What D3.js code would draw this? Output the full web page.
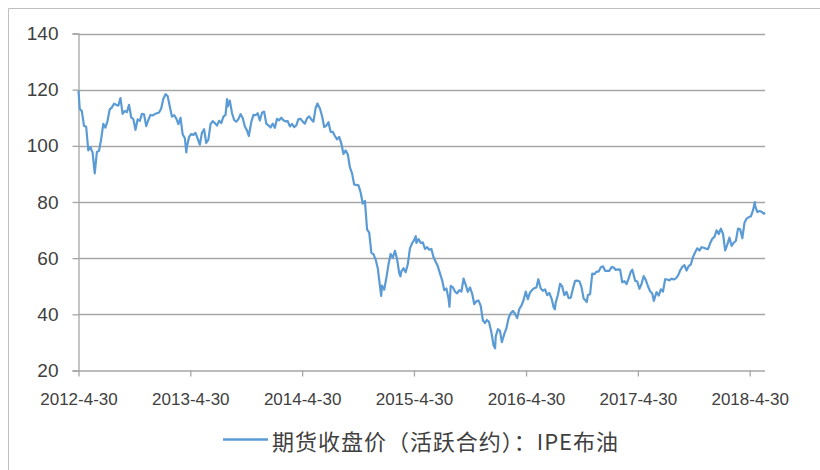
<!DOCTYPE html>
<html><head><meta charset="utf-8">
<script src="https://cdn.jsdelivr.net/npm/d3@7"></script>
<style>body{margin:0;background:#fff}svg{display:block}</style>
</head><body><svg id="c" width="820" height="470"></svg>
<script>
const seriesName = "期货收盘价（活跃合约）：IPE布油";
const yTicks = [20, 40, 60, 80, 100, 120, 140];
const xTickLabels = ["2012-4-30","2013-4-30","2014-4-30","2015-4-30","2016-4-30","2017-4-30","2018-4-30"];
const dates2012 = ["2012-04-30","2012-05-04","2012-05-11","2012-05-18","2012-05-25","2012-06-01","2012-06-08","2012-06-15","2012-06-22","2012-06-29","2012-07-06","2012-07-13","2012-07-20","2012-07-27","2012-08-03","2012-08-10","2012-08-17","2012-08-24","2012-08-31","2012-09-07","2012-09-14","2012-09-21","2012-09-28","2012-10-05","2012-10-12","2012-10-19","2012-10-26","2012-11-02","2012-11-09","2012-11-16","2012-11-23","2012-11-30","2012-12-07","2012-12-14","2012-12-21","2012-12-28"];
const values2012 = [119.7,113.2,112.3,107.1,106.8,98.4,99.5,97.6,90.2,97.8,98.2,102.4,107.8,106.5,109.0,113.0,113.7,115.0,114.6,114.3,117.0,111.4,112.4,112.0,114.6,110.1,109.5,105.7,109.4,108.9,111.4,111.2,107.0,109.2,111.0,110.8];
const dates2013 = ["2013-01-04","2013-01-11","2013-01-18","2013-01-25","2013-02-01","2013-02-08","2013-02-15","2013-02-22","2013-03-01","2013-03-08","2013-03-15","2013-03-22","2013-03-29","2013-04-05","2013-04-12","2013-04-17","2013-04-19","2013-04-26","2013-05-03","2013-05-10","2013-05-17","2013-05-24","2013-05-31","2013-06-07","2013-06-14","2013-06-21","2013-06-28","2013-07-05","2013-07-12","2013-07-19","2013-07-26","2013-08-02","2013-08-09","2013-08-16","2013-08-23","2013-08-28","2013-08-30","2013-09-06","2013-09-13","2013-09-20","2013-09-27","2013-10-04","2013-10-11","2013-10-18","2013-10-25","2013-11-01","2013-11-07","2013-11-15","2013-11-22","2013-11-29","2013-12-06","2013-12-13","2013-12-20","2013-12-27"];
const values2013 = [111.3,111.6,111.9,113.3,116.8,118.4,117.7,114.0,110.4,110.9,109.8,107.7,110.0,104.1,102.8,97.7,99.7,103.2,104.2,103.9,104.6,102.6,100.4,104.6,105.9,101.0,102.2,107.7,108.8,108.1,107.2,108.9,108.1,110.4,111.0,116.6,114.0,116.1,111.7,109.2,108.6,109.5,111.3,109.9,106.9,105.5,103.5,108.5,111.0,110.9,111.6,109.0,111.8,112.2];
const dates2014 = ["2014-01-03","2014-01-10","2014-01-17","2014-01-24","2014-01-31","2014-02-07","2014-02-14","2014-02-21","2014-02-28","2014-03-07","2014-03-14","2014-03-21","2014-03-28","2014-04-04","2014-04-11","2014-04-18","2014-04-25","2014-05-02","2014-05-09","2014-05-16","2014-05-23","2014-05-30","2014-06-06","2014-06-13","2014-06-19","2014-06-27","2014-07-04","2014-07-11","2014-07-18","2014-07-25","2014-08-01","2014-08-08","2014-08-15","2014-08-22","2014-08-29","2014-09-05","2014-09-12","2014-09-19","2014-09-26","2014-10-03","2014-10-10","2014-10-17","2014-10-24","2014-10-31","2014-11-07","2014-11-14","2014-11-21","2014-11-28","2014-12-05","2014-12-12","2014-12-19","2014-12-26"];
const values2014 = [107.9,107.3,106.5,107.9,106.4,109.6,109.1,110.0,109.1,108.7,108.8,106.9,107.8,106.7,107.3,109.5,109.6,108.6,107.9,109.8,110.5,109.4,108.6,113.4,115.1,113.3,110.6,106.7,107.2,108.4,105.0,105.0,103.5,102.3,103.2,100.8,97.1,98.4,97.0,92.3,90.2,86.2,86.1,85.9,83.4,79.4,80.4,70.2,69.1,61.9,61.4,59.5];
const dates2015 = ["2015-01-02","2015-01-09","2015-01-13","2015-01-16","2015-01-23","2015-01-30","2015-02-06","2015-02-13","2015-02-20","2015-02-27","2015-03-06","2015-03-13","2015-03-17","2015-03-20","2015-03-27","2015-04-03","2015-04-10","2015-04-17","2015-04-24","2015-05-01","2015-05-06","2015-05-08","2015-05-15","2015-05-22","2015-05-29","2015-06-05","2015-06-12","2015-06-19","2015-06-26","2015-07-03","2015-07-10","2015-07-17","2015-07-24","2015-07-31","2015-08-07","2015-08-14","2015-08-21","2015-08-24","2015-08-28","2015-09-04","2015-09-11","2015-09-18","2015-09-25","2015-10-02","2015-10-09","2015-10-16","2015-10-23","2015-10-30","2015-11-06","2015-11-13","2015-11-20","2015-11-27","2015-12-04","2015-12-11","2015-12-18","2015-12-24","2015-12-31"];
const values2015 = [56.4,50.1,46.6,50.2,48.8,53.0,57.8,61.5,60.2,62.6,59.7,54.7,53.5,55.3,56.4,55.0,57.9,63.5,65.3,66.5,67.8,65.4,66.8,65.4,65.6,63.3,63.9,63.0,63.3,60.3,58.7,57.1,54.6,52.2,48.6,49.2,45.5,42.7,50.1,49.6,48.1,47.5,48.6,48.1,52.7,50.5,48.0,49.6,47.4,43.6,44.7,44.9,43.0,37.9,36.9,38.0,37.3];
const dates2016 = ["2016-01-08","2016-01-15","2016-01-20","2016-01-22","2016-01-29","2016-02-05","2016-02-11","2016-02-19","2016-02-26","2016-03-04","2016-03-11","2016-03-18","2016-03-24","2016-04-01","2016-04-08","2016-04-15","2016-04-22","2016-04-29","2016-05-06","2016-05-13","2016-05-20","2016-05-27","2016-06-03","2016-06-09","2016-06-17","2016-06-24","2016-07-01","2016-07-08","2016-07-15","2016-07-22","2016-07-29","2016-08-02","2016-08-05","2016-08-12","2016-08-19","2016-08-26","2016-09-02","2016-09-09","2016-09-16","2016-09-23","2016-09-30","2016-10-07","2016-10-14","2016-10-21","2016-10-28","2016-11-04","2016-11-11","2016-11-14","2016-11-18","2016-11-25","2016-12-02","2016-12-09","2016-12-16","2016-12-23","2016-12-30"];
const values2016 = [33.5,28.9,27.9,32.2,34.7,34.1,30.1,33.0,35.1,38.7,40.4,41.2,40.4,38.7,41.9,43.1,45.1,48.1,45.4,47.8,48.7,49.3,49.6,52.5,49.2,48.4,48.9,46.8,47.6,45.7,42.5,41.8,44.3,47.0,50.9,49.9,46.8,48.0,45.8,45.9,49.1,51.9,52.0,51.8,49.7,45.6,44.8,44.4,46.9,47.2,54.5,54.3,55.2,55.2,56.8];
const dates2017 = ["2017-01-06","2017-01-13","2017-01-20","2017-01-27","2017-02-03","2017-02-10","2017-02-17","2017-02-24","2017-03-03","2017-03-10","2017-03-17","2017-03-24","2017-03-31","2017-04-07","2017-04-12","2017-04-21","2017-04-28","2017-05-05","2017-05-12","2017-05-19","2017-05-26","2017-06-02","2017-06-09","2017-06-16","2017-06-21","2017-06-23","2017-06-30","2017-07-07","2017-07-14","2017-07-21","2017-07-28","2017-08-04","2017-08-11","2017-08-18","2017-08-25","2017-09-01","2017-09-08","2017-09-15","2017-09-22","2017-09-29","2017-10-06","2017-10-13","2017-10-20","2017-10-27","2017-11-03","2017-11-10","2017-11-17","2017-11-24","2017-12-01","2017-12-08","2017-12-15","2017-12-22","2017-12-29"];
const values2017 = [57.1,55.5,55.5,55.5,56.8,56.7,55.8,56.0,55.9,51.4,51.8,50.8,52.8,55.2,55.9,52.0,51.7,49.1,50.8,53.6,52.2,50.0,48.2,47.4,44.8,45.5,47.9,46.7,48.9,48.1,52.5,52.4,52.1,52.7,52.4,52.8,53.8,55.6,56.9,57.5,55.6,57.2,57.8,60.4,62.1,63.5,62.7,63.9,63.7,63.4,63.2,65.3,66.9];
const dates2018 = ["2018-01-05","2018-01-12","2018-01-19","2018-01-26","2018-02-02","2018-02-09","2018-02-16","2018-02-23","2018-03-02","2018-03-09","2018-03-16","2018-03-23","2018-03-30","2018-04-06","2018-04-13","2018-04-20","2018-04-27","2018-05-04","2018-05-11","2018-05-17","2018-05-18","2018-05-25","2018-06-01","2018-06-08","2018-06-15","2018-06-19"];
const values2018 = [67.6,69.9,68.6,70.5,68.6,62.8,64.8,67.3,64.4,65.5,66.2,70.5,70.3,67.1,72.6,74.1,74.6,74.9,77.1,80.0,78.5,76.4,76.8,76.5,75.8,76.2];

const parse = d3.timeParse("%Y-%m-%d");
const allDates = [].concat(dates2012, dates2013, dates2014, dates2015, dates2016, dates2017, dates2018);
const allValues = [].concat(values2012, values2013, values2014, values2015, values2016, values2017, values2018);
const data = allDates.map((d, i) => ({date: parse(d), value: allValues[i]}));
const tickDates = xTickLabels.map(s => parse(s.replace(/-(\d)-/, "-0$1-")));

const svg = d3.select("#c");
svg.append("rect").attr("width",820).attr("height",470).attr("fill","#fff");
svg.append("path").attr("d","M8.5,470 V8.5 H820").attr("fill","none").attr("stroke","#bfbfbf").attr("stroke-width",1);

const mLeft = 78.5, mRight = 765, mTop = 33.5, mBottom = 370.5;
const x = d3.scaleTime().domain([data[0].date, data[data.length-1].date]).range([mLeft, mRight]);
const y = d3.scaleLinear().domain([20, 140]).range([mBottom, mTop]);

const gridColor = "#a6a6a6";
svg.append("g").selectAll("line").data(yTicks.slice(1)).join("line")
  .attr("x1", mLeft).attr("x2", mRight).attr("y1", d => Math.round(y(d))+0.5).attr("y2", d => Math.round(y(d))+0.5)
  .attr("stroke", gridColor).attr("stroke-width", 1.3);

const yAxis = d3.axisLeft(y).tickValues(yTicks).tickSize(6).tickPadding(14).tickFormat(d3.format("d"));
const gy = svg.append("g").attr("transform", `translate(${mLeft},0)`).call(yAxis);
gy.select(".domain").attr("stroke", gridColor).attr("stroke-width", 1.3);
gy.selectAll(".tick line").attr("stroke", gridColor).attr("stroke-width", 1.3);
gy.selectAll("text").attr("font-family","'Liberation Sans', Arial, sans-serif").attr("font-size","19px").attr("fill","#404040");

const xAxis = d3.axisBottom(x).tickValues(tickDates).tickSize(6).tickPadding(16).tickFormat((d,i) => xTickLabels[i]);
const gx = svg.append("g").attr("transform", `translate(0,${mBottom})`).call(xAxis);
gx.select(".domain").attr("stroke", gridColor).attr("stroke-width", 1.3).attr("d", `M${mLeft},0.5H${mRight}`);
gx.selectAll(".tick line").attr("stroke", gridColor).attr("stroke-width", 1.3);
gx.selectAll("text").attr("font-family","'Liberation Sans', Arial, sans-serif").attr("font-size","17px").attr("fill","#404040");

const line = d3.line().x(d => x(d.date)).y(d => y(d.value));
svg.append("path").datum(data).attr("d", line).attr("fill","none")
  .attr("stroke","#5B9BD5").attr("stroke-width",2.2).attr("stroke-linejoin","round");

svg.append("line").attr("x1",223).attr("x2",268).attr("y1",439.5).attr("y2",439.5)
  .attr("stroke","#5B9BD5").attr("stroke-width",2.5);
svg.append("text").attr("x",272).attr("y",440).attr("dominant-baseline","central")
  .attr("font-family","'Noto Sans CJK SC', sans-serif").attr("font-size","22px").attr("fill","#404040")
  .attr("textLength",346).attr("lengthAdjust","spacing")
  .text(seriesName);
</script></body></html>
